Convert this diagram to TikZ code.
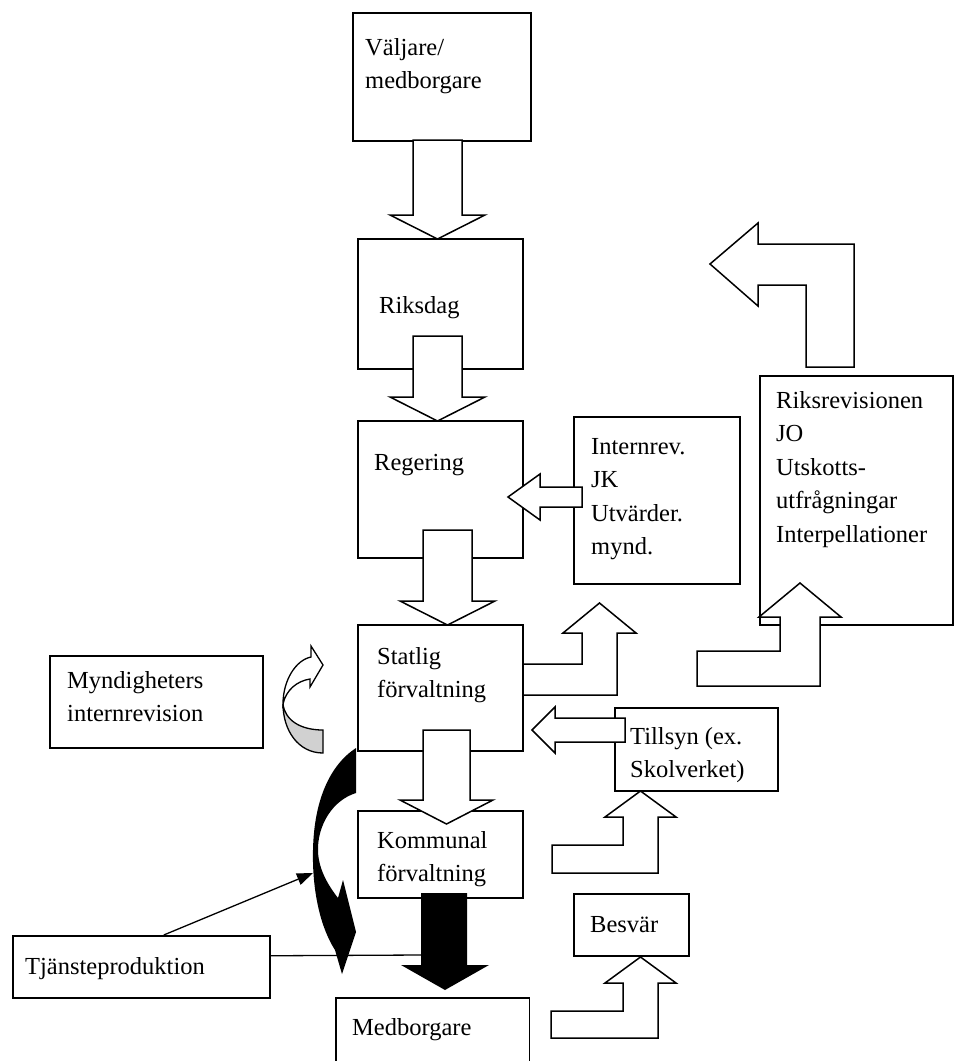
\documentclass[tikz,border=0pt]{standalone}
\usepackage{fontspec}
\setmainfont{Liberation Serif}
\usetikzlibrary{arrows.meta}
\begin{document}
\begin{tikzpicture}[x=1pt,y=-1pt,
  box/.style={draw, line width=1.5pt, fill=white, inner sep=0pt, anchor=north west},
  blk/.style={draw, line width=1.5pt, fill=white, line join=miter},
  txt/.style={inner sep=0pt, anchor=base west, font=\fontsize{24.5}{33.5}\selectfont},
  thin/.style={line width=1.3pt}]
\useasboundingbox (0,0) rectangle (955,1061);
\fill[white] (0,0) rectangle (955,1061);
% boxes
\node[box, minimum width=178pt, minimum height=128pt] (valjare) at (352,12) {};
\node[box, minimum width=165pt, minimum height=130pt] (riksdag) at (357,238) {};
\node[box, minimum width=165pt, minimum height=137pt] (regering) at (357,420) {};
\node[box, minimum width=166pt, minimum height=167pt] (internrev) at (573,416) {};
\node[box, minimum width=193pt, minimum height=249pt] (riksrev) at (759,375) {};
\node[box, minimum width=165pt, minimum height=126pt] (statlig) at (357,624) {};
\node[box, minimum width=213pt, minimum height=92pt] (mynd) at (49,655) {};
\node[box, minimum width=163pt, minimum height=83pt] (tillsyn) at (614,707) {};
\node[box, minimum width=165pt, minimum height=87pt] (kommunal) at (357,810) {};
\node[box, minimum width=115pt, minimum height=62pt] (besvar) at (573,893) {};
\node[box, minimum width=257pt, minimum height=62pt] (tj) at (12,935) {};
\node[inner sep=0pt, anchor=north west, minimum width=193pt, minimum height=63pt] (medb) at (336,998) {};
\draw[line width=1.5pt] (medb.south west) -- (medb.north west) -- (medb.north east) -- (medb.south east);

% down block arrows
\draw[blk] (413,140) -- (462,140) -- (462,215) -- (485,215) -- (437.5,239) -- (390,215) -- (413,215) -- cycle;
\draw[blk] (413,336) -- (462,336) -- (462,397) -- (485,397) -- (437.5,421) -- (390,397) -- (413,397) -- cycle;
\draw[blk] (423,530) -- (472,530) -- (472,601) -- (495,601) -- (447.5,625) -- (400,601) -- (423,601) -- cycle;
\draw[blk] (423,730) -- (470,730) -- (470,800) -- (493,800) -- (446.5,824) -- (400,800) -- (423,800) -- cycle;
% black arrow to Medborgare
\fill[black] (421,893) -- (467,893) -- (467,965) -- (489,965) -- (445,990) -- (401,965) -- (421,965) -- cycle;
% Internrev -> Regering
\draw[blk] (582,487) -- (540,487) -- (540,474) -- (508,497) -- (540,520) -- (540,507) -- (582,507) -- cycle;
% Tillsyn -> Statlig
\draw[blk] (625,718) -- (555,718) -- (555,707) -- (532,730) -- (555,753) -- (555,742) -- (625,742) -- cycle;
% Statlig -> up
\draw[blk] (523,664) -- (582,664) -- (582,633) -- (563,633) -- (599.5,603) -- (636,633) -- (617,633) -- (617,695) -- (523,695) -- cycle;
% up to Tillsyn
\draw[blk] (552,845) -- (623,845) -- (623,817) -- (605,817) -- (640.5,791) -- (676,817) -- (658,817) -- (658,873) -- (552,873) -- cycle;
% up to Besvar
\draw[blk] (551,1011) -- (623,1011) -- (623,983) -- (605,983) -- (640.5,957) -- (676,983) -- (658,983) -- (658,1038) -- (551,1038) -- cycle;
% up to Riksrevisionen
\draw[blk] (697,651) -- (780,651) -- (780,617) -- (759,617) -- (800,583) -- (841,617) -- (820,617) -- (820,686) -- (697,686) -- cycle;
% big bent arrow top right
\draw[blk] (710,264) -- (758,223) -- (758,244) -- (854,244) -- (854,367) -- (806,367) -- (806,285) -- (758,285) -- (758,306) -- cycle;

% gray curved arrow
\draw[line width=1.3pt, fill=black!18] (323,753) .. controls (298,753) and (283,730) .. (283,704)
   .. controls (285,720) and (300,730) .. (323,730) -- cycle;
\draw[line width=1.3pt, fill=white, line join=miter] (283,704) .. controls (283,680) and (296,660) .. (311,657)
   -- (311,646) -- (323,665) -- (310,687) -- (310,679)
   .. controls (297,681) and (286,690) .. (283,704) -- cycle;

% black curved arrow
\fill[black] (356,748) .. controls (330,765) and (314,800) .. (313,850)
   .. controls (312,895) and (322,930) .. (335,950) -- (342,974) -- (356,932) -- (343,880) -- (338,898)
   .. controls (328,885) and (319,870) .. (318,852)
   .. controls (317,825) and (333,800) .. (356,793) -- cycle;
\coordinate (curveL) at (313,873);
\coordinate (shaftL) at (421,955);

% connectors from Tjansteproduktion
\draw[thin, -{Triangle[length=16pt,width=12pt]}] ([xshift=22.5pt]tj.north) -- (curveL);
\draw[thin] ([yshift=11pt]tj.east) -- (shaftL);

% texts
\node[txt] (t-valjare) at (365,55) {\vtop{\hbox{Väljare/}\hbox{medborgare}}};
\node[txt] (t-riksdag) at (379,313) {Riksdag};
\node[txt] (t-regering) at (374,470) {Regering};
\node[txt] (t-internrev) at (591,454) {\vtop{\hbox{Internrev.}\hbox{JK}\hbox{Utvärder.}\hbox{mynd.}}};
\node[txt] (t-riksrev) at (776,408) {\vtop{\hbox{Riksrevisionen}\hbox{JO}\hbox{Utskotts-}\hbox{utfrågningar}\hbox{Interpellationer}}};
\node[txt] (t-statlig) at (377,664) {\vtop{\hbox{Statlig}\hbox{förvaltning}}};
\node[txt] (t-mynd) at (67,688) {\vtop{\hbox{Myndigheters}\hbox{internrevision}}};
\node[txt] (t-tillsyn) at (630,744) {\vtop{\hbox{Tillsyn (ex.}\hbox{Skolverket)}}};
\node[txt] (t-kommunal) at (377,848) {\vtop{\hbox{Kommunal}\hbox{förvaltning}}};
\node[txt] (t-besvar) at (590,932) {Besvär};
\node[txt] (t-tj) at (25,974) {Tjänsteproduktion};
\node[txt] (t-medb) at (352,1035) {Medborgare};
\end{tikzpicture}
\end{document}
